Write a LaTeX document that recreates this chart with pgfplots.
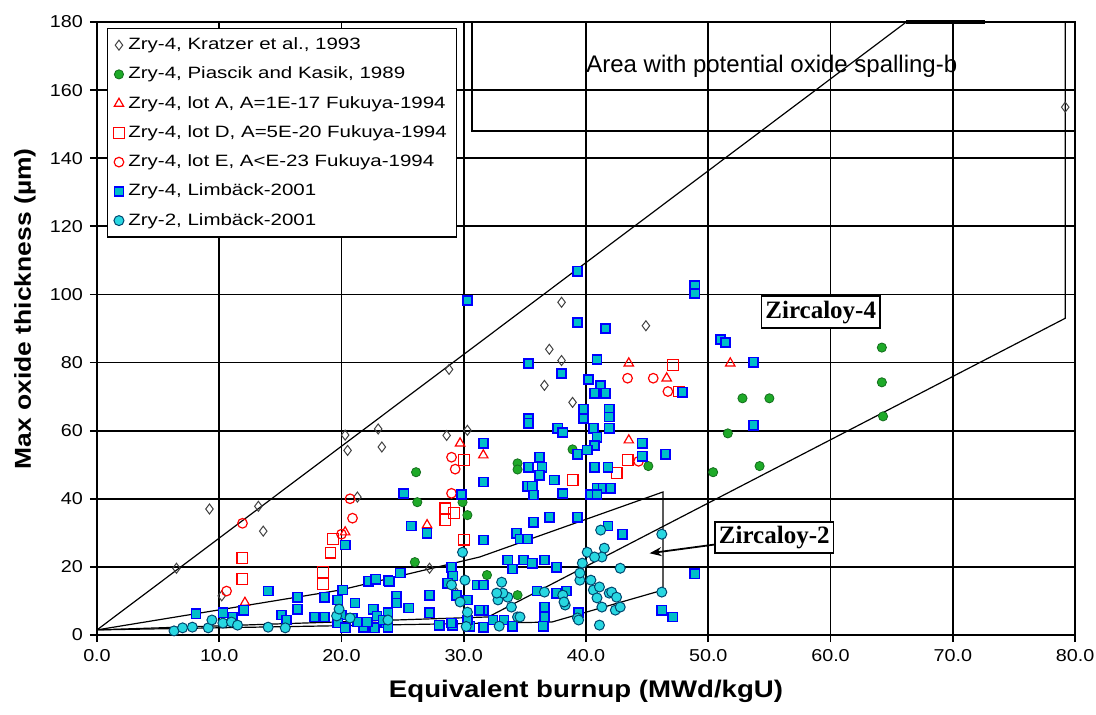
\documentclass[border=0pt]{standalone}
\usepackage{fontspec}
\setmainfont{Liberation Sans}
\newfontfamily\legfont[FakeStretch=1.25]{Liberation Sans}
\newfontfamily\tickfont[FakeStretch=1.15]{Liberation Sans}
\newfontfamily\labfont[FakeStretch=1.15]{Liberation Sans}
\newfontfamily\zirfont{Liberation Serif}
\usepackage{pgfplots}
\pgfplotsset{compat=1.18}
\usetikzlibrary{arrows.meta}

\definecolor{zgreen}{RGB}{30,170,40}
\definecolor{zgreend}{RGB}{20,110,30}
\definecolor{limfill}{RGB}{0,190,200}
\definecolor{z2fill}{RGB}{40,215,225}
\definecolor{z2edge}{RGB}{0,70,110}

\begin{document}
\begin{tikzpicture}
\useasboundingbox (-48.5bp,-40bp) rectangle (499.5bp,317.5bp);
\begin{axis}[
    scale only axis,
    width=489bp, height=306.5bp,
    xmin=0, xmax=80, ymin=0, ymax=180,
    xtick={0,10,...,80}, ytick={0,20,...,180},
    grid=major,
    major grid style={black, line width=0.9pt},
    axis line style={black, line width=0.9pt},
    tick pos=left, tick align=outside,
    major tick length=3.5bp,
    tick style={black, line width=0.9pt},
    /pgf/number format/assume math mode=true,
    ticklabel style={font=\tickfont\fontsize{8.6bp}{10bp}\selectfont},
    xticklabel style={/pgf/number format/.cd, fixed, fixed zerofill, precision=1},
    xlabel={Equivalent burnup (MWd/kgU)},
    ylabel={Max oxide thickness (µm)},
    xlabel style={font=\labfont\bfseries\fontsize{12bp}{13bp}\selectfont,
        at={(axis description cs:0.5,-0.092)}, anchor=center},
    ylabel style={font=\labfont\bfseries\fontsize{11.5bp}{13bp}\selectfont,
        at={(axis description cs:-0.0736,0.532)}, anchor=center},
    legend cell align=left,
    legend image code/.code={\draw[#1] plot coordinates {(0bp,0bp)};},
    legend style={at={(0.0102,0.990)}, anchor=north west, draw=black,
        line width=0.6pt, fill=white, row sep=3.2bp,
        inner xsep=3bp, inner ysep=2.5bp,
        font=\legfont\fontsize{8.2bp}{9.8bp}\selectfont},
    clip=false,
]
% envelope lines
\addplot[black, line width=0.6pt, forget plot] coordinates {(0,1.5) (66.2,180)};
\addplot[black, line width=1.6pt, forget plot] coordinates {(66.2,180) (72.6,180)};
\addplot[black, line width=0.6pt, forget plot] coordinates {(79.2,180) (79.2,93) (32,5.3) (0,1.5)};
\addplot[black, line width=0.6pt, forget plot] coordinates {
(0,1.5) (19.9,13.2) (31.3,22.9) (46.3,42) (46.3,13.2) (37.2,3.8) (0,1.5)};

% Kratzer
\addplot[only marks, mark=diamond, mark size=2.5bp, mark options={draw=black!75, fill=white, line width=0.5pt}] coordinates {
(6.5,19.6) (9.2,37) (10.2,11.5) (13.2,37.8) (13.6,30.5) (20.3,58.7) (20.5,54.2)
(21.3,40.5) (23,60.5) (23.3,55.2) (27.2,19.6) (28.6,58.6) (28.8,78) (29.4,12.3)
(30.3,60.1) (36.6,73.3) (37,83.9) (38,80.6) (38,97.7) (38.9,68.3) (44.9,90.8) (79.2,155)};
\addlegendentry{Zry-4, Kratzer et al., 1993}

% Piascik and Kasik
\addplot[only marks, mark=*, mark size=2.3bp, mark options={draw=zgreend, fill=zgreen, line width=0.4pt}] coordinates {
(26.1,47.8) (26.2,39) (26,21.4) (29.9,39) (30.3,35.2) (31.9,17.6) (34.4,50.4)
(34.4,48.6) (34.4,11.7) (38.9,54.5) (45.1,49.6) (50.4,47.8) (51.6,59.2) (52.8,69.5)
(54.2,49.6) (55,69.5) (64.2,84.4) (64.2,74.2) (64.3,64.2)};
\addlegendentry{Zry-4, Piascik and Kasik, 1989}

% lot A
\addplot[only marks, mark=triangle, mark size=2.7bp, mark options={draw=red, line width=0.6pt}] coordinates {
(12.1,9.5) (20.3,30.2) (27,32.3) (29.7,56.3) (31.6,52.8) (43.5,79.8) (43.5,57.2)
(46.6,75.4) (51.8,79.8)};
\addlegendentry{Zry-4, lot A, A=1E-17 Fukuya-1994}

% lot D
\addplot[only marks, mark=square, mark size=2.7bp, mark options={draw=red, line width=0.6pt}] coordinates {
(11.9,22.6) (11.9,16.4) (18.5,18.5) (18.5,15) (19.1,24.2) (19.3,28.2) (28.5,37.2)
(28.5,33.7) (29.2,35.8) (30,51.3) (30,28) (38.9,45.5) (42.5,47.5) (43.4,51.3)
(47.1,79.2) (47.6,71.5)};
\addlegendentry{Zry-4, lot D, A=5E-20 Fukuya-1994}

% lot E
\addplot[only marks, mark=o, mark size=2.4bp, mark options={draw=red, line width=0.6pt}] coordinates {
(10.6,12.9) (11.9,32.8) (20,29.6) (20.7,40) (20.9,34.3) (29,52.2) (29.3,48.7)
(29,41.6) (43.4,75.4) (45.5,75.4) (46.7,71.5) (44.3,51)};
\addlegendentry{Zry-4, lot E, A<E-23 Fukuya-1994}

% Zry-4 Limback
\addplot[only marks, mark=square*, mark size=2.3bp, mark options={draw=blue, fill=limfill, line width=0.8pt}] coordinates {
(39.3,106.8) (30.3,98.2) (48.9,102.6) (48.9,100.3) (39.3,91.8) (41.6,90) (51,86.8)
(51.4,85.9) (40.9,80.9) (35.3,79.7) (53.7,80.1) (38,76.8) (40.2,75) (41.2,73.3)
(40.7,71) (41.6,71) (47.9,71.3) (39.8,66.3) (39.8,63.6) (41.9,66.3) (41.9,64)
(41.9,60.7) (35.3,63.6) (35.3,62.2) (37.7,60.7) (38.1,59.5) (40.6,60.7) (40.9,58.1)
(53.7,61.6) (31.6,56.3) (44.6,56.3) (40.7,55.7) (40.1,54.3) (39.3,53.1) (46.5,53.1)
(44.6,52.5) (40.7,49.3) (41.8,49.3) (35.3,49.3) (36.2,52.2) (36.4,49.3) (36.2,46.9)
(31.6,44.9) (35.2,43.7) (35.6,43.7) (35.7,41.1) (37.4,45.5) (38.1,41.6) (40.9,43.1)
(41.4,43.1) (42,43.1) (40.4,41.3) (40.9,41.3) (25.1,41.6) (29.8,41.3) (25.7,32)
(27,29.9) (31.6,27.9) (35.7,33.1) (37,34.6) (39.3,34.6) (34.3,29.9) (34.6,28.2)
(35.2,28.2) (41.8,32) (43,29.6) (20.3,26.4)
(33.6,22) (34,19.4) (34.9,22) (35.6,21.1) (36.6,22) (37.6,19.9) (29,19.9) (29.1,17.3)
(31.1,14.7) (31.6,14.7) (29.4,11.7) (27.2,11.7) (24.8,18.2) (23.8,16.1) (24.5,11.4)
(25.5,7.9) (27.2,6.5) (28,2.9) (29.1,2.9) (30.5,2.6) (31.6,7.3) (31.6,2.3) (32.4,4.4)
(33.3,4.4) (34,2.6) (36,12.9) (36.6,8.2) (36.6,5.3) (36.5,2.6) (37.6,12.3) (38.4,12.9)
(39.4,6.5) (46.2,7.3) (47.1,5.3) (23.8,6.5) (23.6,3.5) (48.9,18)
(22.2,15.8) (22.8,16.4) (23.9,15.8) (14,12.9) (16.4,11.1) (16.4,7.6) (18.6,11.1)
(20.1,13.2) (19.7,10.3) (21.1,9.4) (22.6,7.6) (12,7.3) (8.1,6.2) (10.3,6.5) (15.1,5.9)
(17.8,5.3) (18.6,5.3) (20,5.9) (20.9,5) (19.7,3.5) (20.3,2.1) (21.8,2.3) (22.7,2.1)
(23.8,2.3) (24.5,9.4) (28.7,15.2) (31.3,7.3) (22.9,5.6) (23.4,4.4) (22.1,3.8)
(21.3,3.8) (29,3.5) (30.3,10.3) (30.3,4.4) (11.1,5.3) (15.5,4.4)};
\addlegendentry{Zry-4, Limbäck-2001}

% Zry-2 Limback
\addplot[only marks, mark=*, mark size=2.5bp, mark options={draw=z2edge, fill=z2fill, line width=0.5pt}] coordinates {
(6.3,1.2) (7,2.1) (7.8,2.3) (9.1,2.1) (9.4,4.4) (10.3,3.5) (11,3.8) (11.5,2.9)
(14,2.3) (15.4,2.1) (19.6,5.6) (19.8,7.6) (20.7,5) (23.8,4.4)
(29.9,24.3) (30.1,16.1) (29,14.7) (29.7,9.7) (30.3,6.7) (33.1,15.5) (32.8,10.3)
(33.6,11.1) (33.9,8.2) (34.4,5.3) (33.2,12.3) (36.6,12.6) (38.1,11.7) (38.3,8.8)
(39.5,16.1) (39.7,21.1) (40.1,24.3) (40.4,16.1) (40.6,13.2) (40.9,10.9) (41.2,30.8)
(41.5,25.5) (41.3,22.9) (42.8,19.6) (41.9,12.3) (41.3,8.2) (42.4,7.3) (42.8,8.2)
(41.1,2.9) (39.3,5) (46.2,12.6) (46.2,29.6) (39.5,18.2) (41.1,14.1) (42.1,12.6)
(42.5,11.1) (38.2,9.7) (39.4,4.4) (34.6,5.3) (32.7,12.3) (40.7,22.9) (30.2,2.5)
(32.9,2.6)};
\addlegendentry{Zry-2, Limbäck-2001}

% annotations
\draw[black, line width=0.9pt] (axis cs:30.7,180) -- (axis cs:30.7,148) -- (axis cs:80,148);
\node[font=\fontsize{12bp}{14bp}\selectfont] at (axis cs:55.2,167) {Area with potential oxide spalling-b};
\node[draw=black, line width=0.8pt, fill=white, inner sep=2bp, minimum width=59bp, minimum height=16bp,
      font=\zirfont\bfseries\fontsize{12.5bp}{14bp}\selectfont] at (axis cs:59.2,94.8) {Zircaloy-4};
\node[draw=black, line width=0.8pt, fill=white, inner sep=2bp, minimum width=58.5bp, minimum height=15.5bp,
      font=\zirfont\bfseries\fontsize{12.5bp}{14bp}\selectfont] at (axis cs:55.4,28.6) {Zircaloy-2};
\draw[-{Stealth[length=6bp,width=4.5bp]}, black, line width=0.9pt] (axis cs:50.6,26.6) -- (axis cs:45.2,24);
\end{axis}
\end{tikzpicture}
\end{document}
